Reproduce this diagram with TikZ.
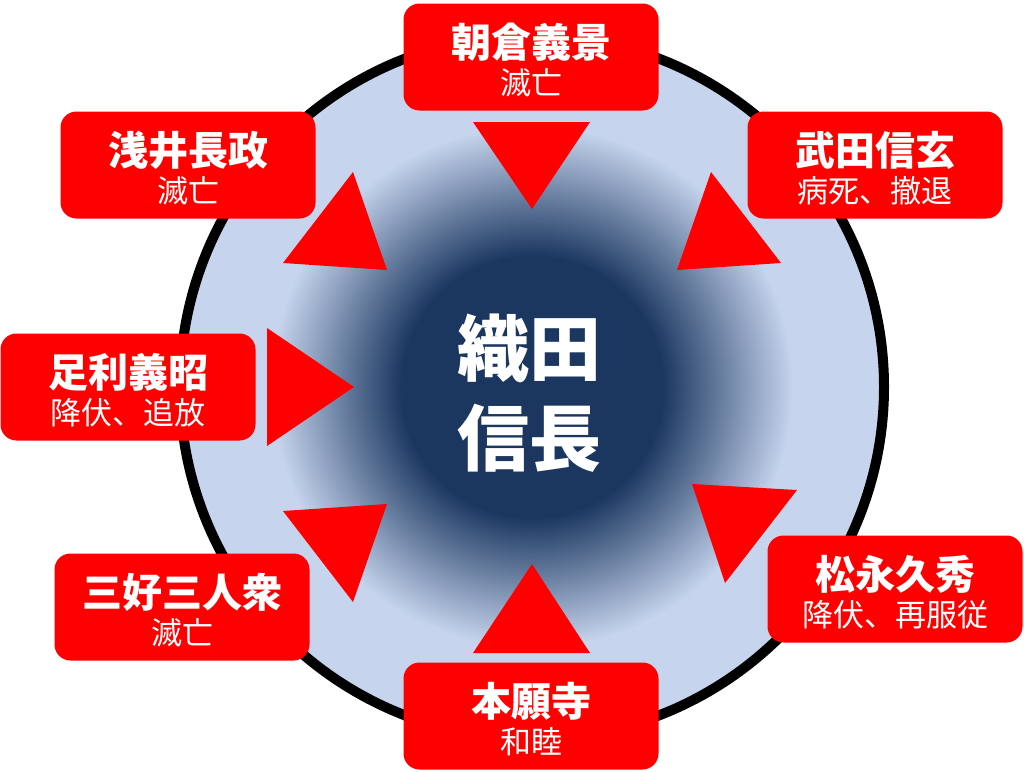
\documentclass[tikz,border=0pt]{standalone}
\usepackage{fontspec}
\newfontfamily\cjk{Noto Sans CJK JP}
\definecolor{navyc}{RGB}{27,55,96}
\definecolor{lightb}{RGB}{198,212,237}
\definecolor{boxred}{RGB}{255,0,0}
\pgfdeclareradialshading{nobu}{\pgfpoint{0bp}{0bp}}{color(0bp)=(navyc);color(9.3bp)=(navyc);color(18.5bp)=(lightb);color(50bp)=(lightb);color(100bp)=(lightb)}
\tikzset{
  boxst/.style={fill=boxred, rounded corners=16pt, minimum width=255pt, minimum height=107pt, inner sep=0pt},
  ttl/.style={text=white, inner sep=0pt, font=\cjk\bfseries\fontsize{40}{44}\selectfont},
  sub/.style={text=white, inner sep=0pt, font=\cjk\fontsize{31}{35}\selectfont},
  bigt/.style={text=white, inner sep=0pt, font=\cjk\bfseries\fontsize{72}{80}\selectfont},
  tri/.style={fill=boxred}
}
\begin{document}
\begin{tikzpicture}[x=1pt,y=-1pt]
\useasboundingbox (0,0) rectangle (1024,771);
\coordinate (C) at (532,387);
\path[shading=nobu] (C) circle[radius=352];
\draw[line width=10pt] (C) circle[radius=352];
% arrows (triangles)
\fill[tri] (473,122) -- (590,122) -- (532,209) -- cycle;
\fill[tri] (473,653) -- (590,653) -- (532,564) -- cycle;
\fill[tri] (267,328) -- (267,446) -- (354,387) -- cycle;
\fill[tri] (353,172) -- (283,263) -- (387,270) -- cycle;
\fill[tri] (711,172) -- (781,263) -- (677,270) -- cycle;
\fill[tri] (353,602) -- (283,511) -- (387,504) -- cycle;
\fill[tri] (692,484) -- (797,490) -- (725,583) -- cycle;
% boxes
\node[boxst] (A) at (531,57) {};
\node[boxst] (T) at (875,165) {};
\node[boxst] (Z) at (188,165) {};
\node[boxst] (S) at (128,387) {};
\node[boxst] (M) at (182,607) {};
\node[boxst] (H) at (531,716) {};
\node[boxst] (K) at (895,589) {};
\node[ttl] (At) at ([yshift=15pt]A.center) {朝倉義景};
\node[sub] (As) at ([yshift=-26pt]A.center) {滅亡};
\node[ttl] (Tt) at ([yshift=15pt]T.center) {武田信玄};
\node[sub] (Ts) at ([yshift=-26pt]T.center) {病死、撤退};
\node[ttl] (Zt) at ([yshift=15pt]Z.center) {浅井長政};
\node[sub] (Zs) at ([yshift=-26pt]Z.center) {滅亡};
\node[ttl] (St) at ([yshift=15pt]S.center) {足利義昭};
\node[sub] (Ss) at ([yshift=-26pt]S.center) {降伏、追放};
\node[ttl] (Mt) at ([yshift=15pt]M.center) {三好三人衆};
\node[sub] (Ms) at ([yshift=-26pt]M.center) {滅亡};
\node[ttl] (Ht) at ([yshift=15pt]H.center) {本願寺};
\node[sub] (Hs) at ([yshift=-26pt]H.center) {和睦};
\node[ttl] (Kt) at ([yshift=15pt]K.center) {松永久秀};
\node[sub] (Ks) at ([yshift=-26pt]K.center) {降伏、再服従};
% center
\node[bigt] (N1) at (529,348) {織田};
\node[bigt] (N2) at (529,438) {信長};
\end{tikzpicture}
\end{document}
